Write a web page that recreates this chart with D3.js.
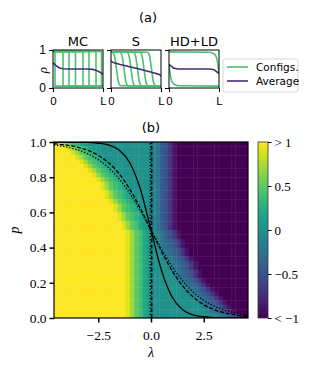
<!DOCTYPE html>
<html>
<head>
<meta charset="utf-8">
<script src="https://d3js.org/d3.v7.min.js"></script>
<style>
body, html { margin: 0; padding: 0; background: #fff; }
.axis path, .axis line { stroke: #000; }
</style>
</head>
<body>
<div id="chart"></div>
<script>

// ---- panel (a) data ----
var panelNames = ["MC", "S", "HD+LD"];
var mcHigh = 0.96, mcLow = 0.05;
var mcWalls = [0.04, 0.2, 0.32, 0.45, 0.6, 0.72, 0.86, 0.97];
var mcAvg = [[0,0.66],[0.05,0.6],[0.1,0.55],[0.15,0.52],[0.2,0.505],[0.3,0.5],[0.7,0.5],[0.8,0.49],[0.85,0.47],[0.9,0.44],[0.95,0.41],[1,0.36]];
var sConfigs = [
  [[0,0.95],[0.03,0.94],[0.07,0.85],[0.11,0.5],[0.15,0.15],[0.19,0.06],[1,0.05]],
  [[0,0.95],[0.18,0.94],[0.22,0.85],[0.26,0.5],[0.30,0.15],[0.34,0.06],[1,0.05]],
  [[0,0.95],[0.32,0.94],[0.36,0.85],[0.40,0.5],[0.44,0.15],[0.48,0.06],[1,0.05]],
  [[0,0.95],[0.45,0.94],[0.49,0.85],[0.53,0.5],[0.57,0.15],[0.61,0.06],[1,0.05]],
  [[0,0.95],[0.58,0.94],[0.62,0.85],[0.66,0.5],[0.70,0.15],[0.74,0.06],[1,0.05]],
  [[0,0.95],[0.73,0.94],[0.77,0.85],[0.81,0.5],[0.85,0.15],[0.89,0.06],[1,0.05]]
];
var sAvg = [[0,0.72],[0.03,0.68],[0.1,0.65],[0.5,0.52],[0.9,0.38],[0.97,0.35],[1,0.31]];
var hdldConfigs = [
  [[0,0.62],[0.02,0.4],[0.05,0.2],[0.1,0.1],[0.2,0.06],[1,0.05]],
  [[0,0.95],[0.8,0.94],[0.9,0.9],[0.95,0.8],[0.98,0.6],[1,0.38]]
];
var hdldAvg = [[0,0.62],[0.05,0.57],[0.1,0.52],[0.2,0.5],[0.8,0.5],[0.9,0.48],[0.95,0.43],[1,0.38]];
var legendLabels = ["Configs.", "Average"];

// ---- panel (b) data ----
var lambdaGrid = [-4.5,-4.3,-4.1,-3.9,-3.7,-3.5,-3.3,-3.1,-2.9,-2.7,-2.5,-2.3,-2.1,-1.9,-1.7,-1.5,
  -1.3,-1.1,-0.9,-0.7,-0.5,-0.3,-0.1,0.1,0.3,0.5,0.7,0.9,1.1,1.3,1.5,1.7,1.9,2.1,2.3,2.5,2.7,2.9,
  3.1,3.3,3.5,3.7,3.9,4.1,4.3,4.5];
var pGrid = [0.9875,0.9625,0.9375,0.9125,0.8875,0.8625,0.8375,0.8125,0.7875,0.7625,
  0.7375,0.7125,0.6875,0.6625,0.6375,0.6125,0.5875,0.5625,0.5375,0.5125,
  0.4875,0.4625,0.4375,0.4125,0.3875,0.3625,0.3375,0.3125,0.2875,0.2625,
  0.2375,0.2125,0.1875,0.1625,0.1375,0.1125,0.0875,0.0625,0.0375,0.0125];
// levels a..u = -1 .. +1 in steps of 0.1 (k = 0), one row per p value, top row first
var levelCodes = "abcdefghijklmnopqrstu";
var heatRows = [
  "u trponml kkkkk kkkkk kkkk kjigfdba aaaa aaaa aaaa aaaa",
  "uuu trponml kkkkk kkkkk kk kjigfdba aaaa aaaa aaaa aaaa",
  "uuuu trponml kkkkk kkkkk k kjigfdba aaaa aaaa aaaa aaaa",
  "uuuuu trponml kkkkk kkkkk kjigfdba aaaa aaaa aaaa aaaa",
  "uuuuu u trponml kkkkk kkkk kjigfdba aaaa aaaa aaaa aaaa",
  "uuuuu uu trponml kkkkk kkk kjigfdba aaaa aaaa aaaa aaaa",
  "uuuuu uuu trponml kkkkk kk kjigfdba aaaa aaaa aaaa aaaa",
  "uuuuu uuuu trponml kkkkk k kjigfdba aaaa aaaa aaaa aaaa",
  "uuuuu uuuuu trponml kkkkk kjigfdba aaaa aaaa aaaa aaaa",
  "uuuuu uuuuu u trponml kkkk kjigfdba aaaa aaaa aaaa aaaa",
  "uuuuu uuuuu u trponml kkkk kjigfdba aaaa aaaa aaaa aaaa",
  "uuuuu uuuuu uu trponml kkk kjigfdba aaaa aaaa aaaa aaaa",
  "uuuuu uuuuu uu trponml kkk kjigfdba aaaa aaaa aaaa aaaa",
  "uuuuu uuuuu uuu trponml kk kjigfdba aaaa aaaa aaaa aaaa",
  "uuuuu uuuuu uuuu trponml k kjigfdba aaaa aaaa aaaa aaaa",
  "uuuuu uuuuu uuuu trponml k kjigfdba aaaa aaaa aaaa aaaa",
  "uuuuu uuuuu uuuuu trponml kjigfdba aaaa aaaa aaaa aaaa",
  "uuuuu uuuuu uuuuu trponml kjigfdba aaaa aaaa aaaa aaaa",
  "uuuuu uuuuu uuuuu u trpoml kjigfdba aaaa aaaa aaaa aaaa",
  "uuuuu uuuuu uuuuu u trpoml kjigfdba aaaa aaaa aaaa aaaa",
  "uuuu uuuu uuuu uuuu utrpomlk jigfdb aaaa aaaa aaaa aaaa",
  "uuuu uuuu uuuu uuuu utrpomlk jigfdb aaaa aaaa aaaa aaaa",
  "uuuu uuuu uuuu uuuu utrpomlk jihgfdb aaaaa aaaaa aaaaa",
  "uuuu uuuu uuuu uuuu utrpomlk jihgfdb aaaaa aaaaa aaaaa",
  "uuuu uuuu uuuu uuuu utrpomlk k jihgfdb aaaaa aaaaa aaaa",
  "uuuu uuuu uuuu uuuu utrpomlk k jihgfdb aaaaa aaaaa aaaa",
  "uuuu uuuu uuuu uuuu utrpomlk kk jihgfdb aaaaa aaaaa aaa",
  "uuuu uuuu uuuu uuuu utrpomlk kkk jihgfdb aaaaa aaaaa aa",
  "uuuu uuuu uuuu uuuu utrpomlk kkk jihgfdb aaaaa aaaaa aa",
  "uuuu uuuu uuuu uuuu utrpomlk kkkk jihgfdb aaaaa aaaaa a",
  "uuuu uuuu uuuu uuuu utrpomlk kkkk jihgfdb aaaaa aaaaa a",
  "uuuu uuuu uuuu uuuu utrpomlk kkkkk jihgfdb aaaaa aaaaa",
  "uuuu uuuu uuuu uuuu utrpomlk kkkkk k jihgfdb aaaaa aaaa",
  "uuuu uuuu uuuu uuuu utrpomlk kkkkk kk jihgfdb aaaaa aaa",
  "uuuu uuuu uuuu uuuu utrpomlk kkkkk kkk jihgfdb aaaaa aa",
  "uuuu uuuu uuuu uuuu utrpomlk kkkkk kkkk jihgfdb aaaaa a",
  "uuuu uuuu uuuu uuuu utrpomlk kkkkk kkkkk jihgfdb aaaaa",
  "uuuu uuuu uuuu uuuu utrpomlk kkkkk kkkkk k jihgfdb aaaa",
  "uuuu uuuu uuuu uuuu utrpomlk kkkkk kkkkk kk jihgfdb aaa",
  "uuuu uuuu uuuu uuuu utrpomlk kkkkk kkkkk kkkk jihgfdb a"
];
var solidLine = [[-4.6,1.0],[-3.0,0.998],[-2.5,0.993],[-2.0,0.982],[-1.5,0.953],[-1.0,0.881],[-0.5,0.731],
  [0,0.5],[0.5,0.269],[1.0,0.119],[1.5,0.047],[2.0,0.018],[2.5,0.007],[3.0,0.002],[4.6,0.0]];
var dashedLine = [[-4.6,0.99],[-4,0.982],[-3.5,0.971],[-3,0.953],[-2.5,0.924],[-2,0.881],[-1.5,0.818],[-1,0.731],
  [-0.5,0.622],[0,0.5],[0.5,0.378],[1,0.269],[1.5,0.182],[2,0.119],[2.5,0.076],[3,0.047],[3.5,0.029],[4,0.018],[4.6,0.01]];
var dottedLine = [[-4.6,0.983],[-4,0.971],[-3.5,0.956],[-3,0.933],[-2.5,0.9],[-2,0.853],[-1.5,0.789],[-1,0.707],
  [-0.5,0.608],[0,0.5],[0.5,0.392],[1,0.293],[1.5,0.211],[2,0.147],[2.5,0.1],[3,0.067],[3.5,0.044],[4,0.029],[4.6,0.017]];
var vDashed = [[0.035,0],[0.035,1]];
var vDotted = [[-0.035,0],[-0.035,1]];
var xTicks = [-2.5, 0, 2.5];
var yTicks = [0, 0.2, 0.4, 0.6, 0.8, 1.0];
var cbarTicks = [-1, -0.5, 0, 0.5, 1];
var cbarLabels = ["< \u22121", "\u22120.5", "0", "0.5", "> 1"];

var green = "#4ac16d", purple = "#472c7a";
var SANS = "'DejaVu Sans', sans-serif";
var NSANS = "'Liberation Sans', sans-serif";
var SERIF = "'Liberation Serif', 'DejaVu Serif', serif";

var svg = d3.select("#chart").append("svg")
  .attr("width", 320).attr("height", 369);

// ================= (a) =================
svg.append("text").style("font-family", SANS).attr("x", 148).attr("y", 22)
  .attr("text-anchor", "middle").style("font-size", "13px").text("(a)");

var subX = [[53, 103], [111, 161], [169, 219]];
var rhoY = d3.scaleLinear().domain([0, 1]).range([88, 50]);
var mcConfigs = mcWalls.map(function(w) { return [[0, mcHigh], [w, mcHigh], [w, mcLow], [1, mcLow]]; });
var allConfigs = [mcConfigs, sConfigs, hdldConfigs];
var allAvg = [mcAvg, sAvg, hdldAvg];

subX.forEach(function(ext, i) {
  var sx = d3.scaleLinear().domain([0, 1]).range(ext);
  var g = svg.append("g");
  g.append("clipPath").attr("id", "clipa" + i).append("rect")
    .attr("x", ext[0]).attr("y", 50).attr("width", ext[1] - ext[0]).attr("height", 38);
  var line = d3.line().x(function(d) { return sx(d[0]); }).y(function(d) { return rhoY(d[1]); })
    .curve(i == 0 ? d3.curveLinear : d3.curveMonotoneX);
  var inner = g.append("g").attr("clip-path", "url(#clipa" + i + ")");
  inner.selectAll("path.cfg").data(allConfigs[i]).enter().append("path")
    .attr("class", "cfg").attr("d", line)
    .attr("fill", "none").attr("stroke", green).attr("stroke-width", 1.6);
  inner.append("path").datum(allAvg[i]).attr("d", line)
    .attr("fill", "none").attr("stroke", purple).attr("stroke-width", 1.6);
  g.append("rect").attr("x", ext[0]).attr("y", 50).attr("width", ext[1] - ext[0]).attr("height", 38)
    .attr("fill", "none").attr("stroke", "#000").attr("stroke-width", 1);
  g.append("text").style("font-family", SANS).attr("x", (ext[0] + ext[1]) / 2).attr("y", 46)
    .attr("text-anchor", "middle").style("font-size", "13px").text(panelNames[i]);
  // x ticks 0 and L
  var xa = g.append("g").attr("class", "axis").attr("transform", "translate(0,88)")
    .call(d3.axisBottom(sx).tickValues([0, 1]).tickSize(4).tickFormat(function(d) { return d == 0 ? "0" : "L"; }));
  xa.select(".domain").remove();
  xa.selectAll("text").style("font-family", NSANS).style("font-size", "11.5px").attr("dy", "0.9em");
  var ya = g.append("g").attr("class", "axis").attr("transform", "translate(" + ext[0] + ",0)")
    .call(d3.axisLeft(rhoY).tickValues([0, 1]).tickSize(4).tickFormat(i == 0 ? d3.format("d") : ""));
  ya.select(".domain").remove();
  ya.selectAll("text").style("font-family", NSANS).style("font-size", "12px");
});
svg.append("text").style("font-family", SERIF).attr("transform", "translate(47,70) rotate(-90)")
  .attr("text-anchor", "middle").style("font-size", "13px").style("font-style", "italic").text("\u03c1");

// legend
var lg = svg.append("g");
lg.append("rect").attr("x", 223).attr("y", 59).attr("width", 75).attr("height", 33).attr("rx", 2)
  .attr("fill", "#fff").attr("stroke", "#ccc").attr("stroke-width", 0.8);
[green, purple].forEach(function(c, i) {
  var yy = 67 + i * 14;
  lg.append("line").attr("x1", 227).attr("x2", 248).attr("y1", yy).attr("y2", yy)
    .attr("stroke", c).attr("stroke-width", 1.6);
  lg.append("text").style("font-family", SANS).attr("x", 256).attr("y", yy).attr("dy", "0.35em")
    .style("font-size", "10.5px").text(legendLabels[i]);
});

// ================= (b) =================
svg.append("text").style("font-family", SANS).attr("x", 151).attr("y", 132)
  .attr("text-anchor", "middle").style("font-size", "13px").text("(b)");

var x = d3.scaleLinear().domain([-4.6, 4.6]).range([54, 248]);
var y = d3.scaleLinear().domain([0, 1]).range([318, 142]);
var color = d3.scaleSequential(d3.interpolateViridis).domain([-1, 1]).clamp(true);
var dLam = lambdaGrid[1] - lambdaGrid[0];
var dP = pGrid[0] - pGrid[1];

var cells = [];
heatRows.forEach(function(row, r) {
  row.replace(/ /g, "").split("").forEach(function(ch, c) {
    cells.push({ lam: lambdaGrid[c], p: pGrid[r], v: -1 + 0.1 * levelCodes.indexOf(ch) });
  });
});

svg.append("clipPath").attr("id", "clipb").append("rect")
  .attr("x", 54).attr("y", 142).attr("width", 194).attr("height", 176);
var plot = svg.append("g").attr("clip-path", "url(#clipb)");
plot.selectAll("rect.cell").data(cells).enter().append("rect")
  .attr("class", "cell")
  .attr("x", function(d) { return x(d.lam - dLam / 2); })
  .attr("y", function(d) { return y(d.p + dP / 2); })
  .attr("width", x(dLam) - x(0) + 0.4)
  .attr("height", y(0) - y(dP) + 0.4)
  .attr("fill", function(d) { return color(d.v); });

var ln = d3.line().x(function(d) { return x(d[0]); }).y(function(d) { return y(d[1]); });
var lnc = d3.line().x(function(d) { return x(d[0]); }).y(function(d) { return y(d[1]); }).curve(d3.curveMonotoneX);
plot.append("path").datum(solidLine).attr("d", lnc).attr("fill", "none").attr("stroke", "#000").attr("stroke-width", 1.3);
plot.append("path").datum(dashedLine).attr("d", lnc).attr("fill", "none").attr("stroke", "#000").attr("stroke-width", 1.3).attr("stroke-dasharray", "4,1.8");
plot.append("path").datum(dottedLine).attr("d", lnc).attr("fill", "none").attr("stroke", "#000").attr("stroke-width", 1.3).attr("stroke-dasharray", "1.3,1.8");
plot.append("path").datum(vDashed).attr("d", ln).attr("fill", "none").attr("stroke", "#000").attr("stroke-width", 1.3).attr("stroke-dasharray", "4,1.8");
plot.append("path").datum(vDotted).attr("d", ln).attr("fill", "none").attr("stroke", "#000").attr("stroke-width", 1.3).attr("stroke-dasharray", "1.3,1.8");

svg.append("rect").attr("x", 54).attr("y", 142).attr("width", 194).attr("height", 176)
  .attr("fill", "none").attr("stroke", "#000").attr("stroke-width", 1.2);

var xa = svg.append("g").attr("class", "axis").attr("transform", "translate(0,318)")
  .call(d3.axisBottom(x).tickValues(xTicks).tickSize(4.5).tickFormat(d3.format(".1f")));
xa.select(".domain").remove();
xa.selectAll("line").attr("stroke-width", 1.5);
xa.selectAll("text").style("font-family", SERIF).style("font-size", "13.5px").attr("dy", "1.05em");

var ya = svg.append("g").attr("class", "axis").attr("transform", "translate(54,0)")
  .call(d3.axisLeft(y).tickValues(yTicks).tickSize(4.5).tickFormat(d3.format(".1f")));
ya.select(".domain").remove();
ya.selectAll("line").attr("stroke-width", 1.5);
ya.selectAll("text").style("font-family", SERIF).style("font-size", "13.5px");

svg.append("text").style("font-family", SERIF).attr("x", 151).attr("y", 357)
  .attr("text-anchor", "middle").style("font-size", "14px").style("font-style", "italic").text("\u03bb");
svg.append("text").style("font-family", SERIF).attr("transform", "translate(19,230) rotate(-90)")
  .attr("text-anchor", "middle").style("font-size", "14px").style("font-style", "italic").text("p");

// colorbar
var cy = d3.scaleLinear().domain([-1, 1]).range([318, 142]);
var grad = svg.append("defs").append("linearGradient").attr("id", "cgrad")
  .attr("x1", 0).attr("y1", 1).attr("x2", 0).attr("y2", 0);
d3.range(0, 1.0001, 0.05).forEach(function(t) {
  grad.append("stop").attr("offset", t).attr("stop-color", d3.interpolateViridis(t));
});
svg.append("rect").attr("x", 258).attr("y", 142).attr("width", 10).attr("height", 176)
  .attr("fill", "url(#cgrad)").attr("stroke", "#333").attr("stroke-width", 0.8);
var ca = svg.append("g").attr("class", "axis").attr("transform", "translate(268,0)")
  .call(d3.axisRight(cy).tickValues(cbarTicks).tickSize(3.5).tickFormat(function(d, i) { return cbarLabels[i]; }));
ca.select(".domain").remove();
ca.selectAll("text").style("font-family", SERIF).style("font-size", "13px");

</script>
</body>
</html>
